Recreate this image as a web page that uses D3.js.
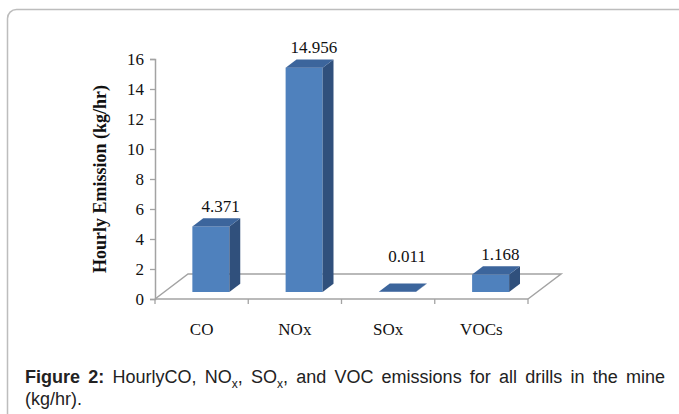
<!DOCTYPE html>
<html>
<head>
<meta charset="utf-8">
<script src="https://cdn.jsdelivr.net/npm/d3@7"></script>
<style>
  body{margin:0;background:#fff;}
  svg{display:block;}
</style>
</head>
<body>
<svg id="chart" width="679" height="414"></svg>
<script>
//chart data
var categories=['CO','NOx','SOx','VOCs'];
var emissions=[4.371,14.956,0.011,1.168];
var valueLabels=['4.371','14.956','0.011','1.168'];
var yTicks=[0,2,4,6,8,10,12,14,16];
var yTitle='Hourly Emission (kg/hr)';
var captionBold='Figure 2:';
var captionParts=[' HourlyCO, NO','x',', SO','x',', and VOC emissions for all drills in the mine'];
var captionLine2='(kg/hr).';

var svg=d3.select('#chart');
var serif='"Liberation Serif","Times New Roman",serif';
var sans='"Liberation Sans",Arial,sans-serif';
var axisColor='#a3a3a3';

//outer frame
svg.append('rect')
  .attr('x',7.5).attr('y',9.5)
  .attr('width',690).attr('height',430)
  .attr('rx',9)
  .attr('fill','none')
  .attr('stroke','#bdbdbd')
  .attr('stroke-width',1.5);

var x=d3.scaleBand().domain(categories).range([155,528]).padding(0);
var y=d3.scaleLinear().domain([0,16]).range([299,59]);

//3d floor depth
var depthX=33, depthY=-25;
var f1=0.28, f2=0.61;
var barW=37;

var g=svg.append('g');

//floor
var base=y(0);
g.append('path')
  .attr('d','M'+x.range()[0]+','+base+' L'+(x.range()[0]+depthX)+','+(base+depthY)+
    ' L'+(x.range()[1]+depthX)+','+(base+depthY)+' L'+x.range()[1]+','+base)
  .attr('fill','none')
  .attr('stroke',axisColor)
  .attr('stroke-width',1.5);

//y axis
var yAxis=d3.axisLeft(y).tickValues(yTicks).tickSize(5).tickPadding(6).tickFormat(d3.format('d'));
var ya=g.append('g').attr('transform','translate(155,0)').call(yAxis);
ya.select('.domain').attr('stroke',axisColor).attr('stroke-width',1.5);
ya.selectAll('.tick line').attr('stroke',axisColor).attr('stroke-width',1.3);
ya.selectAll('.tick text').attr('font-family',serif).attr('font-size',17).attr('fill','#111');

//x axis line with boundary ticks
g.append('line')
  .attr('x1',x.range()[0]).attr('x2',x.range()[1])
  .attr('y1',base).attr('y2',base)
  .attr('stroke',axisColor).attr('stroke-width',1.5);
var bounds=categories.map(function(c){return x(c);}).concat([x.range()[1]]);
g.selectAll('.xtick').data(bounds).enter().append('line')
  .attr('x1',function(d){return d;}).attr('x2',function(d){return d;})
  .attr('y1',base).attr('y2',base+5)
  .attr('stroke',axisColor).attr('stroke-width',1.3);
g.selectAll('.xlabel').data(categories).enter().append('text')
  .attr('x',function(d){return x(d)+x.bandwidth()/2;})
  .attr('y',335)
  .attr('text-anchor','middle')
  .attr('font-family',serif).attr('font-size',17).attr('fill','#111')
  .text(function(d){return d;});

//bars
var ox=depthX*f1, oy=depthY*f1;
var ddx=depthX*(f2-f1), ddy=depthY*(f2-f1);
var bars=g.selectAll('.bar').data(categories).enter().append('g');
bars.each(function(c,i){
  var v=emissions[i];
  var cx=x(c)+x.bandwidth()/2+ox;
  var L=cx-barW/2, R=cx+barW/2;
  var T=y(v)+oy, B=y(0)+oy;
  var sel=d3.select(this);
  sel.append('rect')
    .attr('x',L).attr('y',T).attr('width',barW).attr('height',Math.max(0,B-T))
    .attr('fill','#4f81bd');
  sel.append('path')
    .attr('d','M'+R+','+T+' L'+(R+ddx)+','+(T+ddy)+' L'+(R+ddx)+','+(B+ddy)+' L'+R+','+B+'Z')
    .attr('fill','#30507c');
  sel.append('path')
    .attr('d','M'+L+','+T+' L'+R+','+T+' L'+(R+ddx)+','+(T+ddy)+' L'+(L+ddx)+','+(T+ddy)+'Z')
    .attr('fill','#3c659c');
});

//value labels
g.selectAll('.vlabel').data(categories).enter().append('text')
  .attr('x',function(d){return x(d)+x.bandwidth()/2+19;})
  .attr('y',function(d,i){return Math.min(y(emissions[i])+depthY*f2-6,base+depthY-12);})
  .attr('text-anchor','middle')
  .attr('font-family',serif).attr('font-size',17).attr('fill','#111')
  .text(function(d,i){return valueLabels[i];});

//y axis title
svg.append('text')
  .attr('transform','translate(106,179) rotate(-90)')
  .attr('text-anchor','middle')
  .attr('font-family',serif).attr('font-size',18).attr('font-weight','bold').attr('fill','#111')
  .text(yTitle);

//caption
var cap=svg.append('text')
  .attr('x',25).attr('y',383)
  .attr('font-family',sans).attr('font-size',18).attr('fill','#222');
cap.append('tspan').attr('font-weight','bold').text(captionBold);
captionParts.forEach(function(p,i){
  if(i%2===1){
    cap.append('tspan').attr('font-size',12).attr('dy',5).text(p);
  }else{
    var t=cap.append('tspan').text(p);
    if(i>0) t.attr('dy',-5);
  }
});
var natural=cap.node().getComputedTextLength();
var spaces=(captionBold+captionParts.join('')).split(' ').length-1;
cap.attr('word-spacing',(640-natural)/spaces);

svg.append('text')
  .attr('x',25).attr('y',405)
  .attr('font-family',sans).attr('font-size',18).attr('fill','#222')
  .text(captionLine2);
</script>
</body>
</html>
